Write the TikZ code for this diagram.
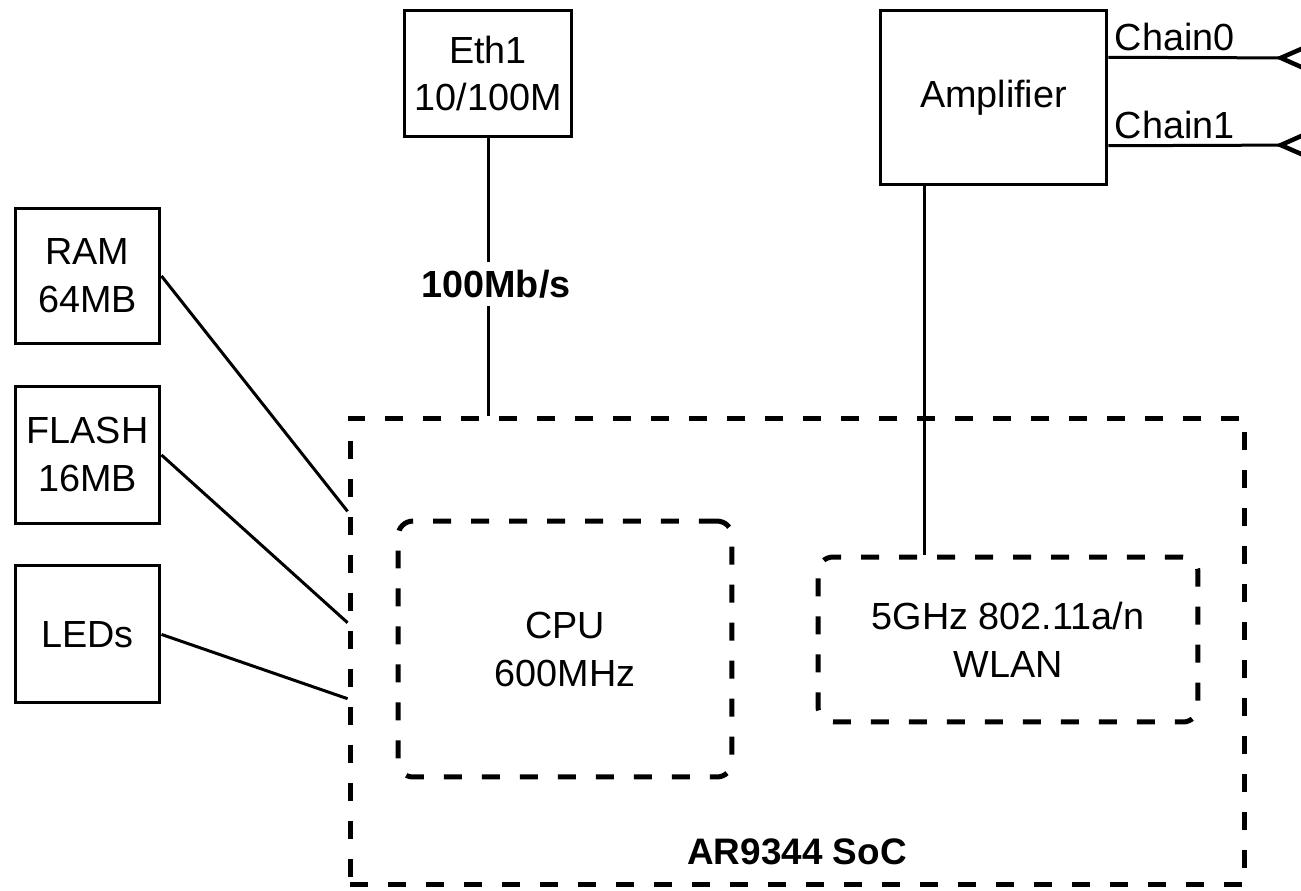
\documentclass[tikz,border=0pt]{standalone}
\usepackage{fontspec}
\setmainfont{Liberation Sans}
\usetikzlibrary{arrows.meta,positioning,calc}

\begin{document}
\begin{tikzpicture}[
  x=0.02cm, y=-0.02cm,
  font=\fontsize{21.5}{27.3}\selectfont,
  node distance=0.79cm,
  box/.style={draw, line width=0.06cm, align=center, inner sep=0pt},
  membox/.style={box, minimum width=2.9cm, minimum height=2.74cm},
  dashbox/.style={draw, line width=0.1cm, dash pattern=on 0.36cm off 0.4cm, align=center, inner sep=0pt},
  corebox/.style={dashbox, rounded corners=0.3cm},
  wire/.style={line width=0.06cm},
  antarrow/.style={-{Straight Barb[reversed, length=0.5cm, width=0.44cm, line width=0.09cm]}},
  lbl/.style={font=\fontsize{21.5}{27.3}\selectfont\bfseries, fill=white, inner xsep=2pt, inner ysep=0.16cm}
]
\useasboundingbox (0,0) rectangle (1301,890);

% top row
\node[box, minimum width=3.36cm, minimum height=2.54cm] (eth) at (488,73.5) {Eth1\\10/100M};
\node[box, minimum width=4.54cm, minimum height=3.5cm] (amp) at (993.5,97.5) {Amplifier};

% memories on the left
\node[membox, minimum height=2.72cm] (ram) at (87.5,276) {RAM\\64MB};
\node[membox, below=of ram] (flash) {FLASH\\16MB};
\node[membox, below=of flash] (leds) {LEDs};

% the SoC
\node[dashbox, minimum width=17.9cm, minimum height=9.34cm] (soc) at (797.5,651.5) {};
\node[corebox, minimum width=6.68cm, minimum height=5.12cm] (cpu) at (565,649) {CPU\\600MHz};
\node[corebox, minimum width=7.6cm, minimum height=3.3cm] (wlan) at (1008,639.5) {5GHz 802.11a/n\\WLAN};
\node[font=\fontsize{21}{26}\selectfont\bfseries] (socname) at (797,852) {AR9344 SoC};

\coordinate (ampfoot) at ($(amp.south west)!0.2!(amp.south east)$);
\coordinate (chain0s) at ($(amp.north east)!0.274!(amp.south east)$);
\coordinate (chain1s) at ($(amp.north east)!0.771!(amp.south east)$);
\coordinate (chain0e) at (1308,58);
\coordinate (chain1e) at (1308,145);

\draw[wire] (eth.south) -- (eth.south |- soc.north);
\node[lbl] (speed) at (496,284) {100Mb/s};
\draw[wire] (ampfoot) -- (ampfoot |- wlan.north);

\draw[wire, antarrow] (chain0s) node[anchor=south west, inner sep=0.1cm] (c0lbl) {Chain0} -- (chain0e);
\draw[wire, antarrow] (chain1s) node[anchor=south west, inner sep=0.1cm] (c1lbl) {Chain1} -- (chain1e);

\draw[wire] (ram.east) -- ($(soc.north west)!0.203!(soc.south west)$);
\draw[wire] (flash.east) -- ($(soc.north west)!0.439!(soc.south west)$);
\draw[wire] (leds.east) -- ($(soc.north west)!0.6!(soc.south west)$);

\end{tikzpicture}
\end{document}
